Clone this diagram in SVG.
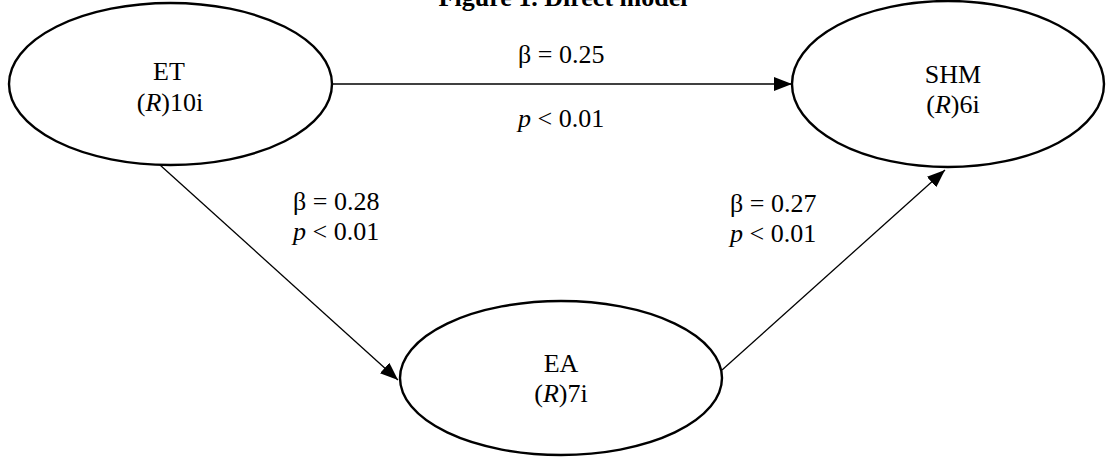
<svg xmlns="http://www.w3.org/2000/svg" width="1107" height="458" viewBox="0 0 1107 458">
<style>
.node ellipse{fill:#fff;stroke:#000;stroke-width:2.4}
text{font-family:"Liberation Serif","Times New Roman",serif;font-size:26px;fill:#000}
.c{text-anchor:middle}
.edge{stroke:#000;stroke-width:1.3;fill:none;marker-end:url(#ah)}
.title{font-weight:bold}
</style>
<defs>
<marker id="ah" markerUnits="userSpaceOnUse" markerWidth="20" markerHeight="16" refX="18" refY="7" orient="auto">
<path d="M0,0 L18,7 L0,14 Z" fill="#000"/>
</marker>
</defs>
<rect width="1107" height="458" fill="#fff"/>
<text class="c title" x="563" y="6">Figure 1. Direct model</text>
<g id="connectors">
<line class="edge" x1="332" y1="84" x2="792" y2="84"/>
<line class="edge" x1="160" y1="165" x2="398" y2="380"/>
<line class="edge" x1="722" y1="370" x2="945" y2="170"/>
</g>
<g id="node-ET" class="node">
<ellipse cx="170.5" cy="84" rx="161.5" ry="81"/>
<text class="c" x="169" y="80">ET</text>
<text class="c" x="170" y="111">(<tspan font-style="italic">R</tspan>)10i</text>
</g>
<g id="node-SHM" class="node">
<ellipse cx="948" cy="84" rx="156" ry="83"/>
<text class="c" x="953" y="83">SHM</text>
<text class="c" x="953" y="113">(<tspan font-style="italic">R</tspan>)6i</text>
</g>
<g id="node-EA" class="node">
<ellipse cx="561" cy="378" rx="161" ry="77"/>
<text class="c" x="561" y="372">EA</text>
<text class="c" x="561" y="402">(<tspan font-style="italic">R</tspan>)7i</text>
</g>
<g id="labels">
<text x="518" y="63">β = 0.25</text>
<text x="518" y="127"><tspan font-style="italic">p</tspan> &lt; 0.01</text>
<text x="293" y="210">β = 0.28</text>
<text x="293" y="240"><tspan font-style="italic">p</tspan> &lt; 0.01</text>
<text x="730" y="212">β = 0.27</text>
<text x="730" y="242"><tspan font-style="italic">p</tspan> &lt; 0.01</text>
</g>
</svg>
